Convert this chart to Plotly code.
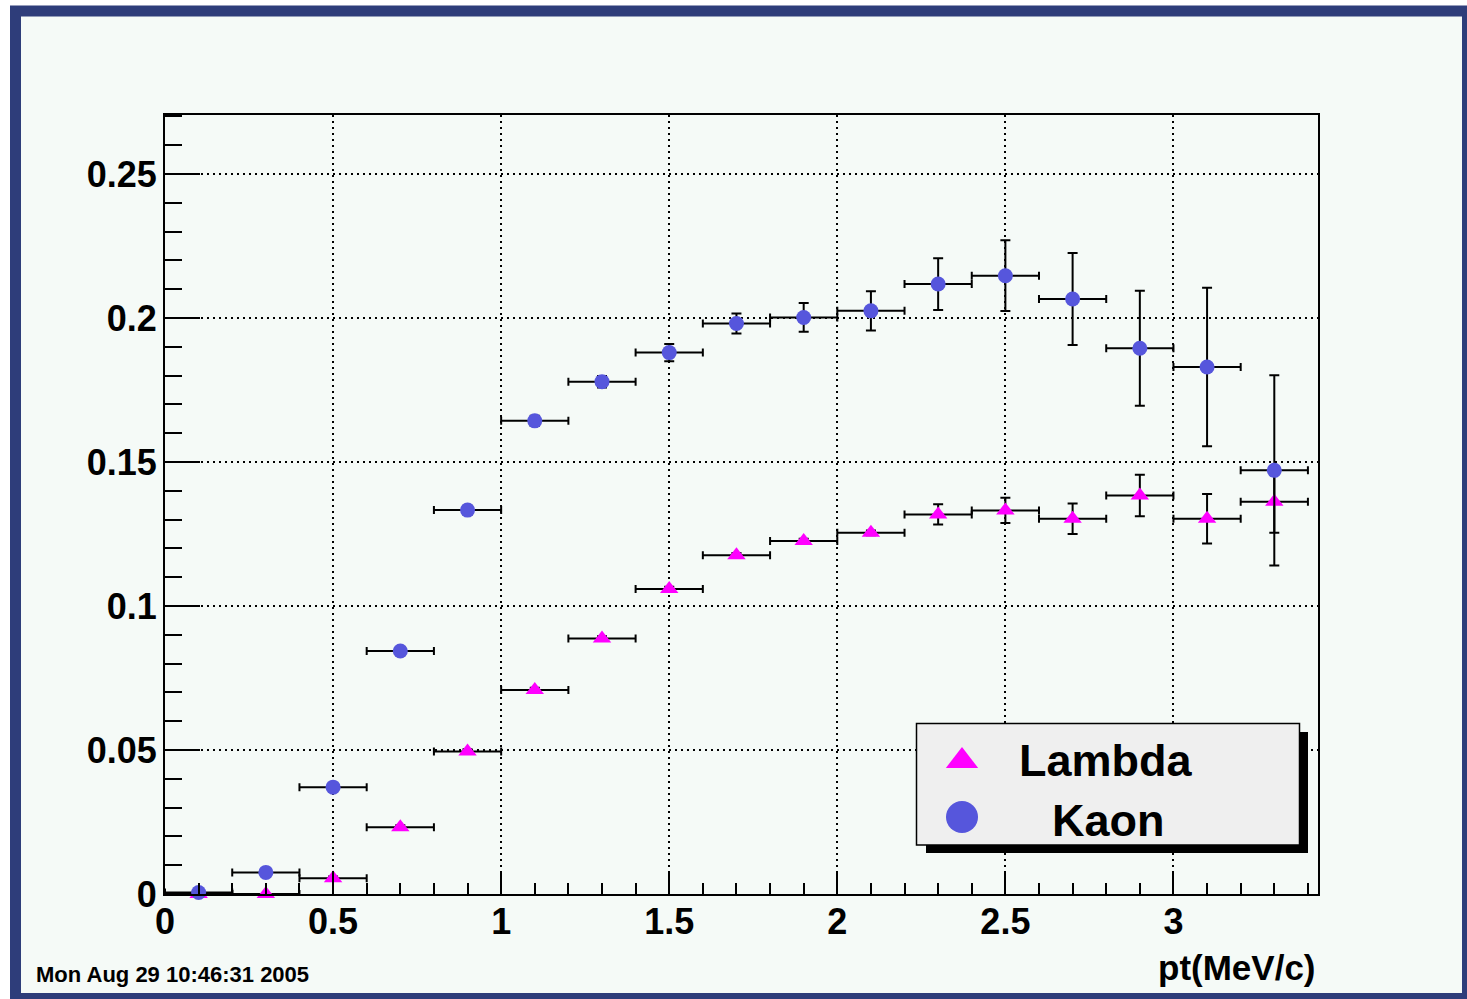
import plotly.graph_objects as go

# pt bins: centres and half-widths (bins of 0.2)
pt_centres = [0.1, 0.3, 0.5, 0.7, 0.9, 1.1, 1.3, 1.5, 1.7, 1.9, 2.1, 2.3, 2.5, 2.7, 2.9, 3.1, 3.3]
pt_half_width = [0.1] * len(pt_centres)

# Lambda yield per bin and its error
lambda_vals = [0.0, 0.0, 0.0055, 0.0232, 0.0495, 0.0708, 0.0887, 0.1059, 0.1176, 0.1226,
               0.1254, 0.1318, 0.1332, 0.1303, 0.1384, 0.1303, 0.1362]
lambda_errs = [0.0, 0.0, 0.0006, 0.0007, 0.0008, 0.0008, 0.0008, 0.0008, 0.0008, 0.0008,
               0.0008, 0.0035, 0.0044, 0.0053, 0.0072, 0.0086, 0.0108]

# Kaon yield per bin and its error
kaon_vals = [0.0005, 0.0075, 0.0371, 0.0844, 0.1333, 0.1643, 0.1779, 0.1880, 0.1981, 0.2002,
             0.2025, 0.2118, 0.2147, 0.2066, 0.1895, 0.1830, 0.1471]
kaon_errs = [0.0003, 0.0006, 0.0010, 0.0012, 0.0015, 0.0018, 0.0020, 0.0030, 0.0035, 0.0050,
             0.0068, 0.0090, 0.0123, 0.0160, 0.0200, 0.0275, 0.0330]

x_title = "pt(MeV/c)"
date_stamp = "Mon Aug 29 10:46:31 2005"
series_names = ["Lambda", "Kaon"]

X_RANGE = [0, 3.43]
Y_RANGE = [0, 0.2705]

LAMBDA_COLOR = "#ff00ff"
KAON_COLOR = "#5656dc"
BG = "#f5faf7"
NAVY = "#2e3d7a"
FONT = "Liberation Sans"

W, H = 1467, 999
ML, MR, MT, MB = 165, 149, 115, 105
PW, PH = W - ML - MR, H - MT - MB


def px_x(p):
    """pixel column -> paper fraction"""
    return (p - ML) / PW


def px_y(p):
    """pixel row -> paper fraction"""
    return (H - MB - p) / PH


def dx(p):
    """pixel column -> x data value"""
    return X_RANGE[0] + px_x(p) * (X_RANGE[1] - X_RANGE[0])


def dy(p):
    """pixel row -> y data value"""
    return Y_RANGE[0] + px_y(p) * (Y_RANGE[1] - Y_RANGE[0])


fig = go.Figure()


def err_trace(name, vals, errs, symbol, size, color):
    return go.Scatter(
        x=pt_centres, y=vals, name=name, mode="markers",
        marker=dict(symbol=symbol, size=size, color=color, opacity=1, line=dict(width=0)),
        error_x=dict(type="data", array=pt_half_width, color="black", thickness=2, width=4),
        error_y=dict(type="data", array=errs, color="black", thickness=2, width=5),
        cliponaxis=False, showlegend=False,
    )


fig.add_trace(err_trace(series_names[0], lambda_vals, lambda_errs, "triangle-up", 16, LAMBDA_COLOR))
fig.add_trace(err_trace(series_names[1], kaon_vals, kaon_errs, "circle", 15, KAON_COLOR))

# legend symbols on an overlay pair of unit axes
fig.add_trace(go.Scatter(
    x=[px_x(962), px_x(962)], y=[px_y(761), px_y(817)],
    xaxis="x2", yaxis="y2", mode="markers",
    marker=dict(symbol=["triangle-up", "circle"], size=[28, 32], opacity=1,
                color=[LAMBDA_COLOR, KAON_COLOR], line=dict(width=0)),
    showlegend=False, hoverinfo="skip",
))

tickfont = dict(family=FONT, size=36, color="black", weight="bold")

fig.update_layout(
    width=W, height=H,
    margin=dict(l=ML, r=MR, t=MT, b=MB, pad=0),
    paper_bgcolor="white",
    plot_bgcolor="rgba(0,0,0,0)",
    showlegend=False,
    xaxis=dict(
        range=X_RANGE, dtick=0.5, tick0=0,
        ticks="inside", ticklen=23, tickwidth=2, tickcolor="black",
        minor=dict(dtick=0.1, tick0=0, ticks="inside", ticklen=11, tickwidth=2,
                   tickcolor="black", showgrid=False),
        showgrid=True, gridcolor="black", gridwidth=1.5, griddash="2px,4px",
        zeroline=False, showline=True, linecolor="black", linewidth=2, mirror=True,
        tickfont=tickfont, ticklabelstandoff=-5,
    ),
    yaxis=dict(
        range=Y_RANGE, dtick=0.05, tick0=0,
        ticks="inside", ticklen=35, tickwidth=2, tickcolor="black",
        minor=dict(dtick=0.01, tick0=0, ticks="inside", ticklen=17, tickwidth=2,
                   tickcolor="black", showgrid=False),
        showgrid=True, gridcolor="black", gridwidth=1.5, griddash="2px,4px",
        zeroline=False, showline=True, linecolor="black", linewidth=2, mirror=True,
        tickfont=tickfont, ticklabelstandoff=-1,
    ),
    xaxis2=dict(overlaying="x", range=[0, 1], visible=False, fixedrange=True),
    yaxis2=dict(overlaying="y", range=[0, 1], visible=False, fixedrange=True),
)

shapes = [
    # canvas fill with navy frame
    dict(type="rect", xref="paper", yref="paper",
         x0=px_x(15.5), x1=px_x(1467.5), y0=px_y(998.5), y1=px_y(11),
         fillcolor=BG, line=dict(color=NAVY, width=11), layer="below"),
    # legend shadow and box, above the grid but under the markers
    dict(type="rect", xref="x", yref="y",
         x0=dx(926), x1=dx(1308), y0=dy(853), y1=dy(732),
         fillcolor="black", line=dict(width=0), layer="between"),
    dict(type="rect", xref="x", yref="y",
         x0=dx(916.5), x1=dx(1299.5), y0=dy(845), y1=dy(723.5),
         fillcolor="#efefef", line=dict(color="black", width=1.5), layer="between"),
]
fig.update_layout(shapes=shapes)

annotations = [
    dict(text=x_title, xref="paper", yref="paper", x=px_x(1318), y=px_y(967),
         xanchor="right", yanchor="middle", showarrow=False,
         font=dict(family=FONT, size=35, color="black", weight="bold")),
    dict(text=date_stamp, xref="paper", yref="paper", x=px_x(34), y=px_y(975),
         xanchor="left", yanchor="middle", showarrow=False,
         font=dict(family=FONT, size=22, color="black", weight="bold")),
    dict(text=series_names[0], xref="paper", yref="paper", x=px_x(1106), y=px_y(760),
         xanchor="center", yanchor="middle", showarrow=False,
         font=dict(family=FONT, size=45, color="black", weight="bold")),
    dict(text=series_names[1], xref="paper", yref="paper", x=px_x(1108), y=px_y(820),
         xanchor="center", yanchor="middle", showarrow=False,
         font=dict(family=FONT, size=45, color="black", weight="bold")),
]
fig.update_layout(annotations=annotations)

fig.write_html("out.html")
